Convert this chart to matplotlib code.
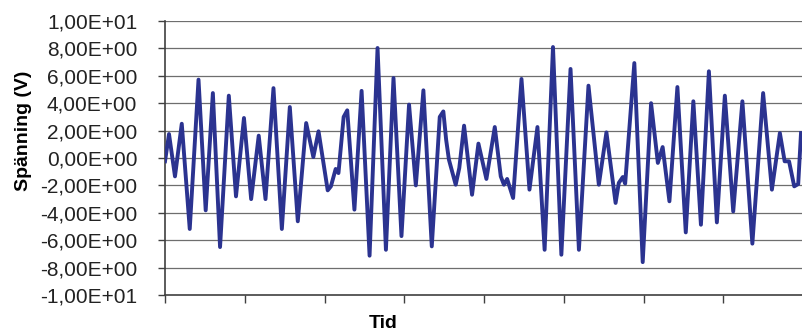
import matplotlib
matplotlib.use("Agg")
from matplotlib import pyplot as plt
from matplotlib.ticker import FuncFormatter

# avlästa punkter (tid, spänning)
tid = [0, 5, 12.5, 21, 31, 42, 51, 60, 69, 80, 89, 99, 108, 117.5, 126,
       136, 146.5, 156.5, 166.5, 177, 186, 192.5, 204, 208, 214, 217.5,
       224, 228.5, 237.5, 246.5, 256.5, 266.5, 277, 286.5, 296.5, 306,
       314.5, 324, 334.5, 344.5, 349, 352.5, 356, 364.5, 369, 375, 385,
       393, 403, 413.5, 421, 425, 429, 436.5, 447, 457, 467, 476, 486.5,
       497, 508.5, 519, 531, 544, 553.5, 565, 569, 574, 577, 588.5, 599,
       609.5, 618, 624, 632.5, 642.5, 653, 662.5, 672, 682, 692, 702,
       712.5, 724, 736.5, 750, 761, 771, 777, 782.5, 789, 794, 797.5]
spanning = [-0.24, 1.75, -1.34, 2.5, -5.18, 5.72, -3.82, 4.74, -6.5, 4.55,
            -2.8, 2.92, -3.0, 1.63, -3.0, 5.1, -5.18, 3.72, -4.62, 2.55,
            0.07, 1.95, -2.36, -2.07, -0.8, -1.1, 3.0, 3.48, -3.77, 4.9,
            -7.13, 8.03, -6.7, 5.84, -5.7, 3.9, -2.0, 4.94, -6.45, 3.0,
            3.4, 1.34, -0.12, -1.95, -0.73, 2.36, -2.68, 1.05, -1.53, 2.26,
            -1.34, -1.95, -1.53, -2.92, 5.77, -2.31, 2.26, -6.7, 8.1, -7.06,
            6.5, -6.7, 5.28, -1.95, 1.87, -3.28, -1.82, -1.39, -1.87, 6.93,
            -7.6, 4.0, -0.36, 0.8, -3.16, 5.18, -5.43, 4.14, -4.87, 6.33,
            -4.7, 4.55, -3.9, 4.14, -6.25, 4.74, -2.31, 1.82, -0.24, -0.24,
            -2.07, -1.9, 1.82]

y_ticks = list(range(-10, 11, 2))
x_ticks = list(range(0, 801, 100))

plt.rcParams['font.family'] = ['Liberation Sans', 'DejaVu Sans']

fig = plt.figure(figsize=(8.03, 3.36), dpi=100)
ax = fig.add_axes([0.2055, 0.122, 0.7945, 0.8155])

for y in y_ticks[1:]:
    ax.axhline(y, color='#6e6e6e', lw=0.9, zorder=1)

ax.plot(tid, spanning, color='#2B3390', lw=2.8, zorder=3,
        solid_joinstyle='round')

ax.set_xlim(0, 800)
ax.set_ylim(-10, 10)
ax.set_yticks(y_ticks)
ax.set_xticks(x_ticks)
ax.set_xticklabels([])


def fmt(v, pos):
    s = "%.2E" % v
    return s.replace('.', ',')


ax.yaxis.set_major_formatter(FuncFormatter(fmt))
ax.tick_params(axis='y', direction='out', length=5, width=1,
               color='#404040', labelsize=15, pad=15, labelcolor='#222222')
ax.tick_params(axis='x', direction='out', length=6, width=1,
               color='#404040')

for s in ['top', 'right']:
    ax.spines[s].set_visible(False)
for s in ['left', 'bottom']:
    ax.spines[s].set_color('#404040')
    ax.spines[s].set_linewidth(1.2)

ax.set_ylabel("Spänning (V)", fontsize=14, fontweight='bold')
ax.yaxis.set_label_coords(-0.2085, 0.598)
ax.set_xlabel("Tid", fontsize=14, fontweight='bold')
ax.xaxis.set_label_coords(0.342, -0.073)

plt.savefig('out.png', dpi=100)
